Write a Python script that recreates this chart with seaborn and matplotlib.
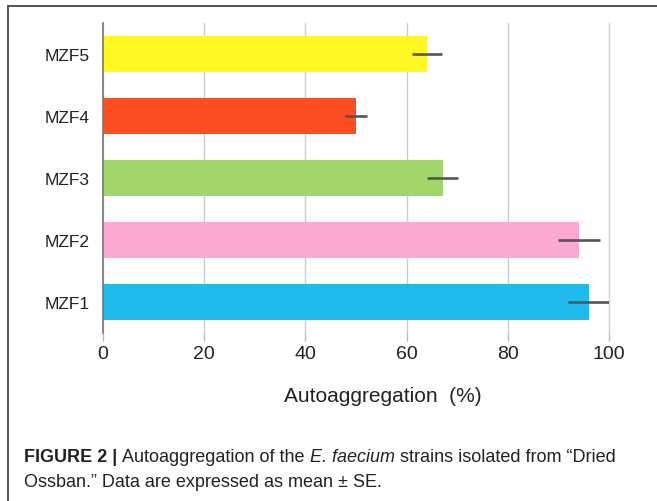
import numpy as np
import pandas as pd
import matplotlib
matplotlib.use('Agg')
import matplotlib.pyplot as plt
from matplotlib.lines import Line2D
import seaborn as sns

# data (mean and SE)
strains = ['MZF5', 'MZF4', 'MZF3', 'MZF2', 'MZF1']
autoagg = [64.0, 50.0, 67.1, 94.1, 96.0]
se = [2.9, 2.2, 3.0, 4.1, 4.1]
bar_colors = ['#FFF820', '#FC4E20', '#A1D76A', '#FDA7D3', '#1FBAEE']
xticks = [0, 20, 40, 60, 80, 100]

sns.set_theme(style='white')
plt.rcParams['font.family'] = ['Liberation Sans', 'DejaVu Sans']

df = pd.DataFrame({'strain': strains, 'value': autoagg, 'se': se})

fig = plt.figure(figsize=(6.57, 5.02), dpi=100)
ax = fig.add_axes([103 / 657, 1 - 334 / 502, 506 / 657, 310 / 502])

sns.barplot(data=df, x='value', y='strain', hue='strain', palette=bar_colors,
            orient='h', width=0.59, legend=False, ax=ax, saturation=1,
            edgecolor='none', zorder=2)
ax.errorbar(df['value'], np.arange(len(strains)), xerr=df['se'], fmt='none',
            ecolor='#555555', elinewidth=1.9, capsize=0, zorder=4)

ax.set_xlim(0, 100)
ax.set_ylim(4.5, -0.5)
ax.set_xticks(xticks)
ax.set_xticklabels([str(v) for v in xticks], fontsize=14, color='#222222')
ax.tick_params(axis='x', length=6, width=1, color='#bbbbbb', pad=3,
               bottom=True, direction='out')
ax.tick_params(axis='y', length=0, pad=9.5, labelsize=12.5, labelcolor='#222222')
ax.xaxis.grid(True, color='#cccccc', linewidth=1, zorder=0)
for gl in ax.get_xgridlines():
    gl.set_clip_on(False)
ax.set_axisbelow(True)
for s in ['top', 'right', 'bottom']:
    ax.spines[s].set_visible(False)
ax.spines['left'].set_color('#777777')
ax.spines['left'].set_linewidth(1.2)
ax.set_ylabel('')
ax.set_xlabel('Autoaggregation  (%)', fontsize=15, color='#222222', labelpad=17)
ax.xaxis.set_label_coords((383 - 103) / 506, -63 / 310)
ax.xaxis.label.set_va('center')

# border lines (top and left only)
fig.add_artist(Line2D([7.5 / 657, 1], [1 - 7 / 502, 1 - 7 / 502],
                      transform=fig.transFigure, color='#444444', lw=1.3))
fig.add_artist(Line2D([7.5 / 657, 7.5 / 657], [0, 1 - 7 / 502],
                      transform=fig.transFigure, color='#444444', lw=1.3))

# caption with mixed styles
renderer = fig.canvas.get_renderer()
cap_size = 13.0


def text_width(s, **kw):
    t = fig.text(0, 0, s, fontsize=cap_size, **kw)
    w = t.get_window_extent(renderer).width
    t.remove()
    return w


space_w = text_width('x x') - text_width('xx')


def draw_runs(x_px, y_px, runs):
    for s, kw in runs:
        lead = len(s) - len(s.lstrip(' '))
        x_px += lead * space_w
        core = s.strip(' ')
        t = fig.text(x_px / 657, 1 - y_px / 502, core, fontsize=cap_size,
                     va='baseline', color='#222222', **kw)
        x_px += t.get_window_extent(renderer).width
        trail = len(s) - len(s.rstrip(' '))
        x_px += trail * space_w


draw_runs(24, 462, [
    ('FIGURE 2 |', {'fontweight': 'bold'}),
    (' Autoaggregation of the ', {}),
    ('E. faecium', {'fontstyle': 'italic'}),
    (' strains isolated from \u201cDried', {}),
])
draw_runs(24, 487, [
    ('Ossban.\u201d Data are expressed as mean \u00b1 SE.', {}),
])

fig.savefig('out.png', dpi=100)
